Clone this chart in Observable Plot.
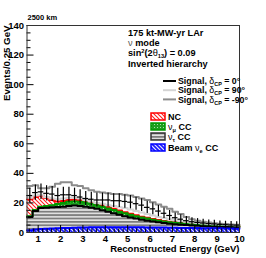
<!DOCTYPE html>
<html><head><meta charset="utf-8">
<script src="https://cdn.jsdelivr.net/npm/d3@7"></script>
<script src="https://cdn.jsdelivr.net/npm/@observablehq/plot@0.6"></script>
<style>
html,body{margin:0;padding:0;background:#fff;}
#chart{width:266px;height:258px;overflow:hidden;}
</style></head><body><div id="chart"></div>
<script>
// ---- data (events per 0.25 GeV bin, bins from 0.5 to 10 GeV) ----
const xMin = 0.5, xMax = 10, binWidth = 0.25;
const beamNueCC = [1.5,2.0,2.3,2.5,2.7,2.9,3.0,3.1,3.2,3.3,3.4,3.5,3.5,3.6,3.6,3.6,3.6,3.6,3.5,3.5,3.5,3.4,3.4,3.3,3.3,3.2,3.2,3.1,3.1,3.0,3.0,2.9,2.9,2.8,2.8,2.7,2.7,2.6];
const nutauCC = [9.0,12.5,14.2,14.3,14.3,14.3,14.5,14.9,15.1,14.7,14.1,13.3,12.5,11.4,10.4,9.4,8.4,7.4,6.7,5.9,5.1,4.6,4.0,3.6,3.1,2.8,2.4,2.2,1.9,1.7,1.5,1.4,1.2,1.1,1.0,1.0,0.9,0.9];
const numuCC = [0.5,0.8,1.0,1.2,1.5,2.0,2.5,2.8,2.7,2.8,2.8,2.7,2.5,2.5,2.3,2.2,2.0,2.0,1.8,1.6,1.6,1.4,1.3,1.1,1.1,1.0,1.0,0.9,0.9,0.9,0.9,0.9,0.9,0.9,0.8,0.8,0.7,0.7];
const ncBkg = [11.5,8.7,7.5,5.5,3.5,1.8,1.3,1.2,1.2,1.2,1.2,1.0,1.0,1.0,0.9,0.8,0.8,0.7,0.6,0.6,0.5,0.5,0.4,0.4,0.3,0.3,0.3,0.3,0.2,0.2,0.2,0.2,0.2,0.2,0.2,0.2,0.2,0.2];
// signal + background totals
const signalCP0 = [25,27,27.5,26.5,26,25,25.5,25.5,25,24,23,22.5,22,22,22,21.5,21.5,21,20.5,19.5,18.5,17,16,14.5,13,11.5,10,9,8,7.3,6.8,6.4,6,5.8,5.5,5.3,5.1,5];
const signalCP90 = [23.5,25,25.5,24,23,22.5,23,23.5,23.5,23,22,21,20,19.5,18.5,18,17,16.5,15.5,14.5,13.5,12.5,11.5,10.5,9.8,9,8.3,7.7,7.2,6.7,6.4,6.1,5.8,5.6,5.4,5.2,5,4.9];
const signalCPm90 = [31.5,32,30,30,31,33,34,34,32,31.5,30,28.5,27.5,27,26.5,26,26,25.5,25,24,23,22,20.5,19,17.5,16,14,12.5,10.5,9,8,7.3,6.8,6.3,6,5.7,5.4,5.2];
const xTicks = [1,2,3,4,5,6,7,8,9,10];
const yTicks = [0,20,40,60,80,100,120,140];

// ---- build table ----
const rows = beamNueCC.map((b, i) => {
  const x = xMin + i * binWidth;
  const c0 = b, c1 = c0 + nutauCC[i], c2 = c1 + numuCC[i], c3 = c2 + ncBkg[i];
  return {x, c0, c1, c2, c3, s0: signalCP0[i], s90: signalCP90[i], sm90: signalCPm90[i]};
});
const stepRows = [...rows, {...rows[rows.length - 1], x: xMax}];

const W = 266, H = 258, mL = 26.5, mR = 27, mT = 25, mB = 26;
const plotW = W - mL - mR, plotH = H - mT - mB;
const font = "'Liberation Sans', Arial, Helvetica, sans-serif";
const xMinor = d3.range(6, 101, 2).map(v => v / 10).filter(v => !xTicks.includes(v));
const yMinor = d3.range(5, 140, 5).filter(v => !yTicks.includes(v));

const plot = Plot.plot({
  width: W, height: H,
  marginLeft: mL, marginRight: mR, marginTop: mT, marginBottom: mB,
  style: {fontFamily: font, fontWeight: "bold", fontSize: "9.5px", background: "white", color: "black"},
  x: {domain: [xMin, xMax], ticks: xTicks, tickSize: 0, tickPadding: 2.5, label: null, tickFormat: d => String(d)},
  y: {domain: [0, 140], ticks: yTicks, tickSize: 0, tickPadding: 3, label: null, tickFormat: d => String(d)},
  marks: [
    // stacked backgrounds
    Plot.areaY(stepRows, {x: "x", y1: "c2", y2: "c3", curve: "step-after", fill: "url(#pNC)"}),
    Plot.areaY(stepRows, {x: "x", y1: "c1", y2: "c2", curve: "step-after", fill: "url(#pNumu)"}),
    Plot.areaY(stepRows, {x: "x", y1: "c0", y2: "c1", curve: "step-after", fill: "url(#pTau)"}),
    Plot.areaY(stepRows, {x: "x", y1: 0, y2: "c0", curve: "step-after", fill: "url(#pBeam)"}),
    Plot.line(stepRows, {x: "x", y: "c3", curve: "step-after", stroke: "#ff0000", strokeWidth: 2}),
    Plot.line(stepRows, {x: "x", y: "c2", curve: "step-after", stroke: "#009900", strokeWidth: 2}),
    Plot.line(stepRows, {x: "x", y: "c1", curve: "step-after", stroke: "#000000", strokeWidth: 2}),
    Plot.line(stepRows, {x: "x", y: "c0", curve: "step-after", stroke: "#0000ff", strokeWidth: 2}),
    // signal histograms
    Plot.line(stepRows, {x: "x", y: "s90", curve: "step-after", stroke: "#d4d4d4", strokeWidth: 2}),
    Plot.line(stepRows, {x: "x", y: "sm90", curve: "step-after", stroke: "#8c8c8c", strokeWidth: 2}),
    // delta_CP = 0 with statistical errors
    Plot.ruleY(rows, {y: "s0", x1: "x", x2: d => d.x + binWidth, stroke: "black", strokeWidth: 1.2}),
    Plot.ruleX(rows, {x: d => d.x + binWidth / 2, y1: d => d.s0 - Math.sqrt(d.s0), y2: d => d.s0 + Math.sqrt(d.s0), stroke: "black", strokeWidth: 1.2}),
    // inward ticks
    Plot.tickY(yTicks, {y: d => d, insetRight: plotW - 7, stroke: "black"}),
    Plot.tickY(yMinor, {y: d => d, insetRight: plotW - 4, stroke: "black"}),
    Plot.tickX(xTicks, {x: d => d, insetTop: plotH - 7, stroke: "black"}),
    Plot.tickX(xMinor, {x: d => d, insetTop: plotH - 3.5, stroke: "black"}),
    Plot.frame({stroke: "#333", strokeWidth: 1}),
    // titles
    Plot.text(["Reconstructed Energy (GeV)"], {frameAnchor: "bottom-right", text: d => d, textAnchor: "end", lineAnchor: "middle", dy: 16.8, fontSize: 9.5, fontWeight: "bold"}),
    Plot.text(["Events/0.25 GeV"], {frameAnchor: "top-left", text: d => d, rotate: -90, textAnchor: "end", lineAnchor: "middle", dx: -20, fontSize: 9.7, fontWeight: "bold"}),
    Plot.text(["2500 km"], {frameAnchor: "top-left", text: d => d, textAnchor: "start", lineAnchor: "middle", dy: -8, dx: 0.5, fontSize: 7.5, fontWeight: "bold"})
  ]
});
document.getElementById("chart").appendChild(plot);

// ---- patterns ----
const svg = d3.select(plot);
const defs = svg.insert("defs", ":first-child");
function hatch(id, color, bg, size, sw) {
  const p = defs.append("pattern").attr("id", id).attr("patternUnits", "userSpaceOnUse").attr("width", size).attr("height", size);
  p.append("rect").attr("width", size).attr("height", size).attr("fill", bg);
  p.append("path").attr("d", `M0,0L${size},${size}M${-size/2},${size/2}L${size/2},${size*1.5}M${size/2},${-size/2}L${size*1.5},${size/2}`)
    .attr("stroke", color).attr("stroke-width", sw);
}
hatch("pNC", "#ff2020", "#ffffff", 4, 1.1);
hatch("pBeam", "#1a1aff", "#e6e6ff", 4, 1.6);
{
  const p = defs.append("pattern").attr("id", "pTau").attr("patternUnits", "userSpaceOnUse").attr("width", 4).attr("height", 3.4);
  p.append("rect").attr("width", 4).attr("height", 3.4).attr("fill", "#e4e4e4");
  p.append("rect").attr("width", 4).attr("height", 1.8).attr("fill", "#7d7d7d");
}
{
  const p = defs.append("pattern").attr("id", "pNumu").attr("patternUnits", "userSpaceOnUse").attr("width", 3).attr("height", 3);
  p.append("rect").attr("width", 3).attr("height", 3).attr("fill", "#1f9e1f");
  p.append("rect").attr("x", 1).attr("y", 1).attr("width", 1).attr("height", 1).attr("fill", "#a8e0a8");
}

// ---- legend ----
const lg = svg.append("g").attr("font-family", font).attr("font-weight", "bold").attr("text-anchor", "start");
function rich(x, y, parts, size) {
  const t = lg.append("text").attr("x", x).attr("y", y).attr("font-size", size).attr("fill", "black").attr("text-anchor", "start");
  for (const p of parts) {
    const [s, kind] = Array.isArray(p) ? p : [p, null];
    const ts = t.append("tspan").text(s);
    if (kind === "sub") ts.attr("font-size", size * 0.62).style("baseline-shift", "-1.6px");
    else if (kind === "sup") ts.attr("font-size", size * 0.62).style("baseline-shift", "3px");
    else if (kind === "greek") ts.attr("font-weight", "normal");
    else if (kind === "greekgray") ts.attr("font-weight", "normal").attr("fill", "#555");
  }
}
rich(128, 36.3, ["175 kt-MW-yr LAr"], 9.2);
rich(128, 46.3, [["ν", "greekgray"], " mode"], 9.2);
rich(128, 56.3, ["sin", ["2", "sup"], "(2", ["θ", "greek"], ["13", "sub"], ") = 0.09"], 9.2);
rich(128, 66.6, ["Inverted hierarchy"], 9.2);

const sigRows = [
  {y: 81, color: "#000", w: 2, lab: "0°"},
  {y: 90.2, color: "#d4d4d4", w: 2, lab: "90°"},
  {y: 99.4, color: "#8c8c8c", w: 2, lab: "-90°"}
];
for (const r of sigRows) {
  lg.append("line").attr("x1", 163).attr("x2", 176).attr("y1", r.y).attr("y2", r.y).attr("stroke", r.color).attr("stroke-width", r.w);
  rich(178, r.y + 3.2, ["Signal, ", ["δ", "greek"], ["CP", "sub"], " = " + r.lab], 8.8);
}
const boxRows = [
  {y: 116.5, fill: "url(#pNC)", stroke: "#ff0000", parts: ["NC"]},
  {y: 126.5, fill: "url(#pNumu)", stroke: "#009900", parts: [["ν", "greek"], ["μ", "sub"], " CC"]},
  {y: 136.5, fill: "url(#pTau)", stroke: "#333", parts: [["ν", "greek"], ["τ", "sub"], " CC"]},
  {y: 147.5, fill: "url(#pBeam)", stroke: "#0000ff", parts: ["Beam ", ["ν", "greek"], ["e", "sub"], " CC"]}
];
for (const r of boxRows) {
  lg.append("rect").attr("x", 151).attr("y", r.y - 3.5).attr("width", 14).attr("height", 7).attr("fill", r.fill).attr("stroke", r.stroke).attr("stroke-width", 1.5);
  rich(168, r.y + 3.2, r.parts, 9);
}
</script>
</body></html>
